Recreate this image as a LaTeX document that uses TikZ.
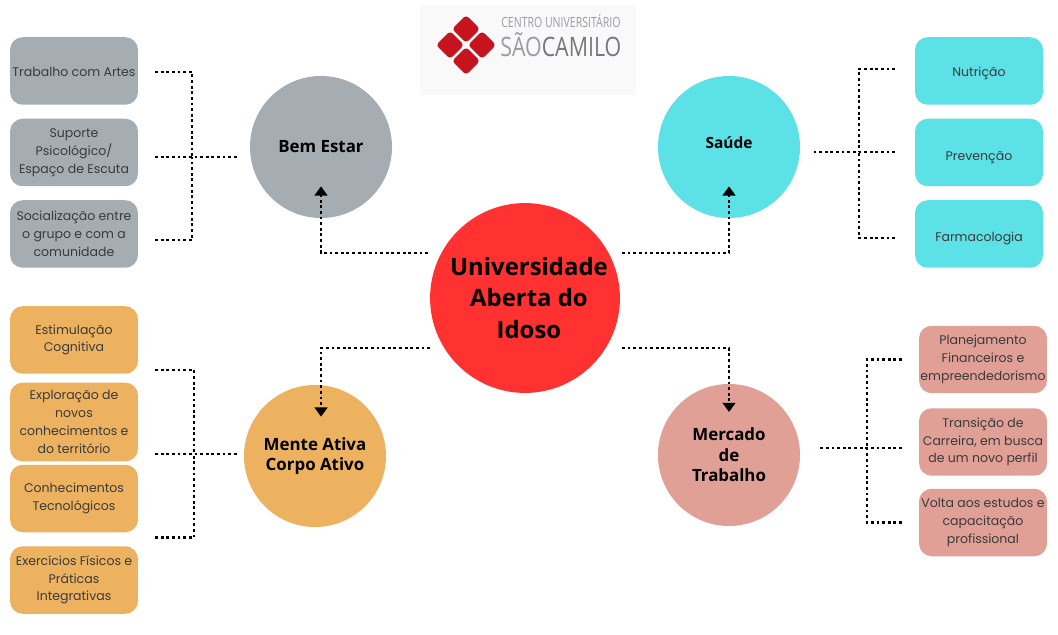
\documentclass[tikz,border=0pt]{standalone}
\usepackage{fontspec}
\setmainfont{Poppins}
\newfontfamily\titlefont{Open Sans}
\usetikzlibrary{arrows.meta, calc}
\definecolor{uaigrey}{HTML}{A5ADB2}
\definecolor{uaicyan}{HTML}{5CE1E6}
\definecolor{uaigold}{HTML}{EDB25F}
\definecolor{uairose}{HTML}{E0A096}
\definecolor{uaired}{HTML}{FF3131}
\definecolor{uaitext}{HTML}{3A3A3A}
\definecolor{logored}{HTML}{C5141F}
\definecolor{logogrey}{HTML}{9A9DA0}
\definecolor{logodark}{HTML}{75787B}
\definecolor{logoback}{HTML}{F9F9F9}
\tikzset{
  topicbox/.style={draw=none, rounded corners=9pt, minimum width=91pt, minimum height=48pt,
    inner sep=0pt, align=center, text=uaitext, font=\fontsize{8.9}{12.6}\selectfont,
    execute at begin node={\rule{0pt}{15pt}}},
  topiccircle/.style={circle, draw=none, minimum size=101pt, inner sep=0pt, align=center,
    font=\titlefont\bfseries\fontsize{12}{14.6}\selectfont},
  dotline/.style={line width=2pt, dash pattern=on 2pt off 2pt, black},
  dotarrow/.style={dotline, -{Triangle[width=9pt,length=6.5pt]}}
}
\begin{document}
\begin{tikzpicture}[x=0.025cm, y=-0.025cm]
  \useasboundingbox (0,0) rectangle (1058,635);
  % logo
  \fill[logoback] (420,5) rectangle (636,95);
  \foreach \dx/\dy in {0/-16, 0/16, -16/0, 16/0}
    \fill[logored, rounded corners=2.5pt] (466+\dx,45+\dy-14) -- (466+\dx+14,45+\dy)
      -- (466+\dx,45+\dy+14) -- (466+\dx-14,45+\dy) -- cycle;
  \node[font=\titlefont\fontsize{10}{11}\selectfont, text=logogrey, anchor=west, inner sep=0pt] (logotop) at (501,21)
    {\scalebox{0.75}[1]{CENTRO UNIVERSITÁRIO}};
  \node[font=\titlefont\fontsize{19}{20}\selectfont, text=logogrey, anchor=west, inner sep=0pt] (logoname) at (500,45)
    {\scalebox{0.8}[1]{SÃO\textcolor{logodark}{CAMILO}}};

  \node[circle, fill=uaired, minimum size=135pt, inner sep=0pt, align=center,
    execute at begin node={\rule{0pt}{34pt}},
    font=\titlefont\bfseries\fontsize{17}{22.4}\selectfont] (centro) at (525,298)
    {\hspace*{5.6pt}Universidade\\\hspace*{5.6pt}Aberta do\\\hspace*{5.6pt}Idoso};
  \node[topiccircle, fill=uaigrey] (bemestar) at (321,147) {Bem Estar};
  \node[topiccircle, fill=uaicyan, font=\titlefont\bfseries\fontsize{11}{14}\selectfont] (saude) at (729,147) {\raisebox{6pt}{Saúde}};
  \node[topiccircle, fill=uaigold] (mente) at (315,456) {Mente Ativa\\Corpo Ativo};
  \node[topiccircle, fill=uairose, execute at begin node={\rule{0pt}{13pt}}] (mercado) at (729,455) {Mercado\\de\\Trabalho};

  \node[topicbox, fill=uaigrey] (artes) at (74,71) {\raisebox{3.5pt}{Trabalho com Artes}};
  \node[topicbox, fill=uaigrey] (suporte) at (74,152.5) {Suporte\\Psicológico/\\Espaço de Escuta};
  \node[topicbox, fill=uaigrey] (socializacao) at (74,234) {Socialização entre\\o grupo e com a\\comunidade};

  \node[topicbox, fill=uaicyan] (nutricao) at (979,71) {\raisebox{3.5pt}{Nutrição}};
  \node[topicbox, fill=uaicyan] (prevencao) at (979,152.5) {\raisebox{2pt}{Prevenção}};
  \node[topicbox, fill=uaicyan] (farmacologia) at (979,234) {\raisebox{2pt}{Farmacologia}};

  \node[topicbox, fill=uaigold] (estimulacao) at (74,340) {Estimulação\\Cognitiva};
  \node[topicbox, fill=uaigold, minimum height=56pt] (exploracao) at (74,422) {Exploração de\\novos\\conhecimentos e\\do território};
  \node[topicbox, fill=uaigold] (tecnologicos) at (74,498.5) {Conhecimentos\\Tecnológicos};
  \node[topicbox, fill=uaigold] (exercicios) at (74,580) {Exercícios Físicos e\\Práticas\\Integrativas};

  \node[topicbox, fill=uairose] (planejamento) at (983,359.5) {Planejamento\\Financeiros e\\empreendedorismo};
  \node[topicbox, fill=uairose] (transicao) at (983,442) {Transição de\\Carreira, em busca\\de um novo perfil};
  \node[topicbox, fill=uairose] (volta) at (983,522.5) {Volta aos estudos e\\capacitação\\profissional};

  % center to circles
  \coordinate (fromnw) at (428,253);
  \coordinate (fromne) at (622,253);
  \coordinate (fromsw) at (430,348);
  \coordinate (fromse) at (622,348);
  \draw[dotarrow, shorten >=28pt] (fromnw) -| (bemestar.center);
  \draw[dotarrow, shorten >=28pt] (fromne) -| (saude.center);
  \draw[dotarrow, shorten >=28pt] (fromsw) -| ([xshift=4.3pt]mente.center);
  \draw[dotarrow, shorten >=30.6pt] (fromse) -| (mercado.center);

  % brackets
  \coordinate (bracketa) at (192,157);
  \coordinate (bracketb) at (859,152);
  \coordinate (bracketc) at (194,454);
  \coordinate (bracketd) at (867,448);
  \draw[dotline, shorten <=12pt] ([yshift=-0.7pt]artes.east) -| (bracketa);
  \draw[dotline, shorten <=12pt] ([yshift=-4.3pt]socializacao.east) -| (bracketa);
  \draw[dotline, shorten <=12pt, shorten >=59pt] (bracketa -| suporte.east) -- (bracketa -| bemestar.center);
  \draw[dotline, shorten <=14pt] ([yshift=1.4pt]nutricao.west) -| (bracketb);
  \draw[dotline, shorten <=14pt] ([yshift=-2.8pt]farmacologia.west) -| (bracketb);
  \draw[dotline, shorten <=14pt, shorten >=60pt] (bracketb -| prevencao.west) -- (bracketb -| saude.center);
  \draw[dotline, shorten <=12pt] ([yshift=-21.3pt]estimulacao.east) -| (bracketc);
  \draw[dotline, shorten <=12pt] ([yshift=-28pt]tecnologicos.east) -| (bracketc);
  \draw[dotline, shorten <=12pt, shorten >=54pt] (bracketc -| exploracao.east) -- (bracketc -| mente.center);
  \draw[dotline, shorten <=12pt] (planejamento.west) -| (bracketd);
  \draw[dotline, shorten <=12pt] (volta.west) -| (bracketd);
  \draw[dotline, shorten <=12pt, shorten >=65pt] (bracketd -| transicao.west) -- (bracketd -| mercado.center);
\end{tikzpicture}
\end{document}
